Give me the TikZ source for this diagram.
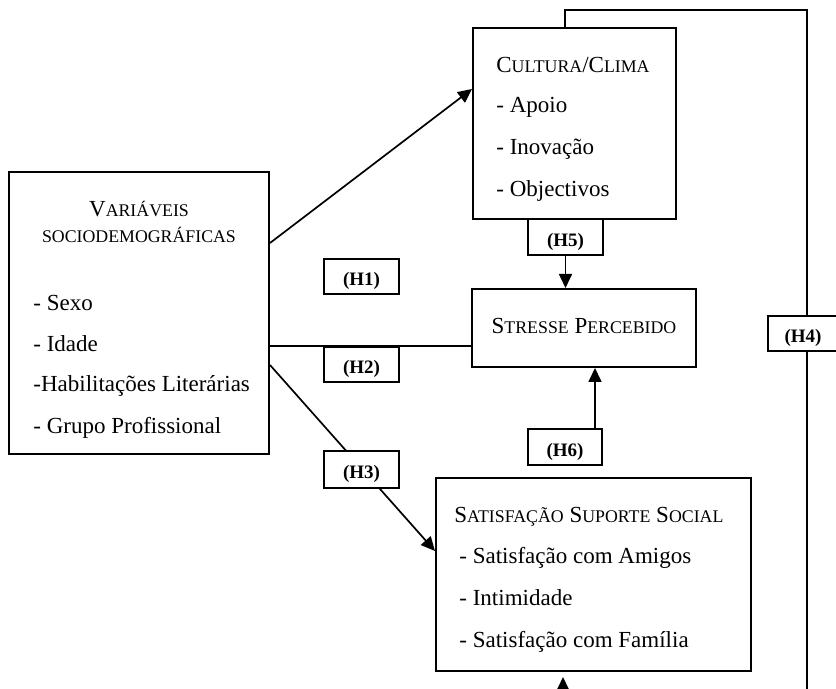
\documentclass[tikz,border=0pt]{standalone}
\usepackage{fontspec}
\setmainfont{Liberation Serif}
\usetikzlibrary{arrows.meta}
\newcommand\smc[1]{{\fontsize{8.9pt}{10pt}\selectfont #1}}

\begin{document}
\begin{tikzpicture}[x=0.5pt,y=-0.5pt,
  every node/.style={font=\fontsize{11.5pt}{14pt}\selectfont,inner sep=0pt},
  bigbox/.style={draw,line width=1pt,fill=white},
  hbox/.style={draw,line width=1pt,fill=white,minimum width=37.5pt,minimum height=17.5pt,
    text height=9.5pt,text depth=0pt,font=\fontsize{9.5pt}{10pt}\selectfont\bfseries},
  link/.style={line width=.85pt},
  arr/.style={link,-{Triangle[length=7pt,width=6.5pt]}}]
\useasboundingbox (0,0) rectangle (836,689);
\clip (0,0) rectangle (836,689);
% main boxes
\node[bigbox,minimum width=130pt,minimum height=141pt] (vars) at (139,313) {};
\node[bigbox,minimum width=101.5pt,minimum height=95.5pt] (cult) at (574.5,123.5) {};
\node[bigbox,minimum width=112pt,minimum height=39pt] (stress) at (584,328) {};
\node[bigbox,minimum width=157.5pt,minimum height=96.5pt] (sat) at (593.5,574.5) {};
% texts
\node[anchor=base] (varsT1) at (139,217) {V\smc{ARIÁVEIS}};
\node[anchor=base] (varsT2) at (139,243) {\smc{SOCIODEMOGRÁFICAS}};
\node[anchor=base west] (sexo) at (33,311) {- Sexo};
\node[anchor=base west] (idade) at (33,352) {- Idade};
\node[anchor=base west] (habil) at (33,392) {-Habilitações Literárias};
\node[anchor=base west] (grupo) at (33,434) {- Grupo Profissional};
\node[anchor=base west] (cultT) at (496,73) {C\smc{ULTURA}/C\smc{LIMA}};
\node[anchor=base west] (apoio) at (496,113) {- Apoio};
\node[anchor=base west] (inov) at (496,155) {- Inovação};
\node[anchor=base west] (obj) at (496,197) {- Objectivos};
\node[anchor=base] (stressT) at (584,334) {S\smc{TRESSE} P\smc{ERCEBIDO}};
\node[anchor=base west] (satT) at (454,523) {S\smc{ATISFAÇÃO} S\smc{UPORTE} S\smc{OCIAL}};
\node[anchor=base west] (amig) at (459,564) {- Satisfação com Amigos};
\node[anchor=base west] (intim) at (459,606) {- Intimidade};
\node[anchor=base west] (famil) at (459,647) {- Satisfação com Família};
% connectors
\draw[arr] ([yshift=35pt]vars.east) -- ([yshift=17.25pt]cult.west);
\coordinate (h2a) at ([yshift=-16.5pt]vars.east);
\draw[link] (h2a) -- (h2a -| stress.west);
\draw[arr] ([yshift=-26pt]vars.east) -- ([yshift=11.75pt]sat.west);
\coordinate (t4) at ([xshift=-4.75pt]cult.north);
\coordinate (b4) at ([xshift=-15.25pt]sat.south);
\draw[arr,shorten >=2.5pt] (t4) |- (807,10) -- (807,720) -| (b4);
% hypotheses
\node[hbox] (h1) at (361.5,276.5) {(H1)};
\node[hbox] (h2) at (361.5,364.5) {(H2)};
\node[hbox,minimum height=18.5pt] (h3) at (361.5,469.5) {(H3)};
\node[hbox,minimum height=18pt] (h5) at (565.5,237) {(H5)};
\node[hbox,minimum width=37pt,minimum height=18pt] (h6) at (565,447) {(H6)};
\node[hbox,minimum width=35pt] (h4) at (803,333.5) {(H4)};
\draw[arr] (h5.south) -- (h5.south |- stress.north);
\coordinate (s6) at ([xshift=5.5pt]stress.south);
\draw[arr] (s6 |- h6.north) -- (s6);
\end{tikzpicture}
\end{document}
